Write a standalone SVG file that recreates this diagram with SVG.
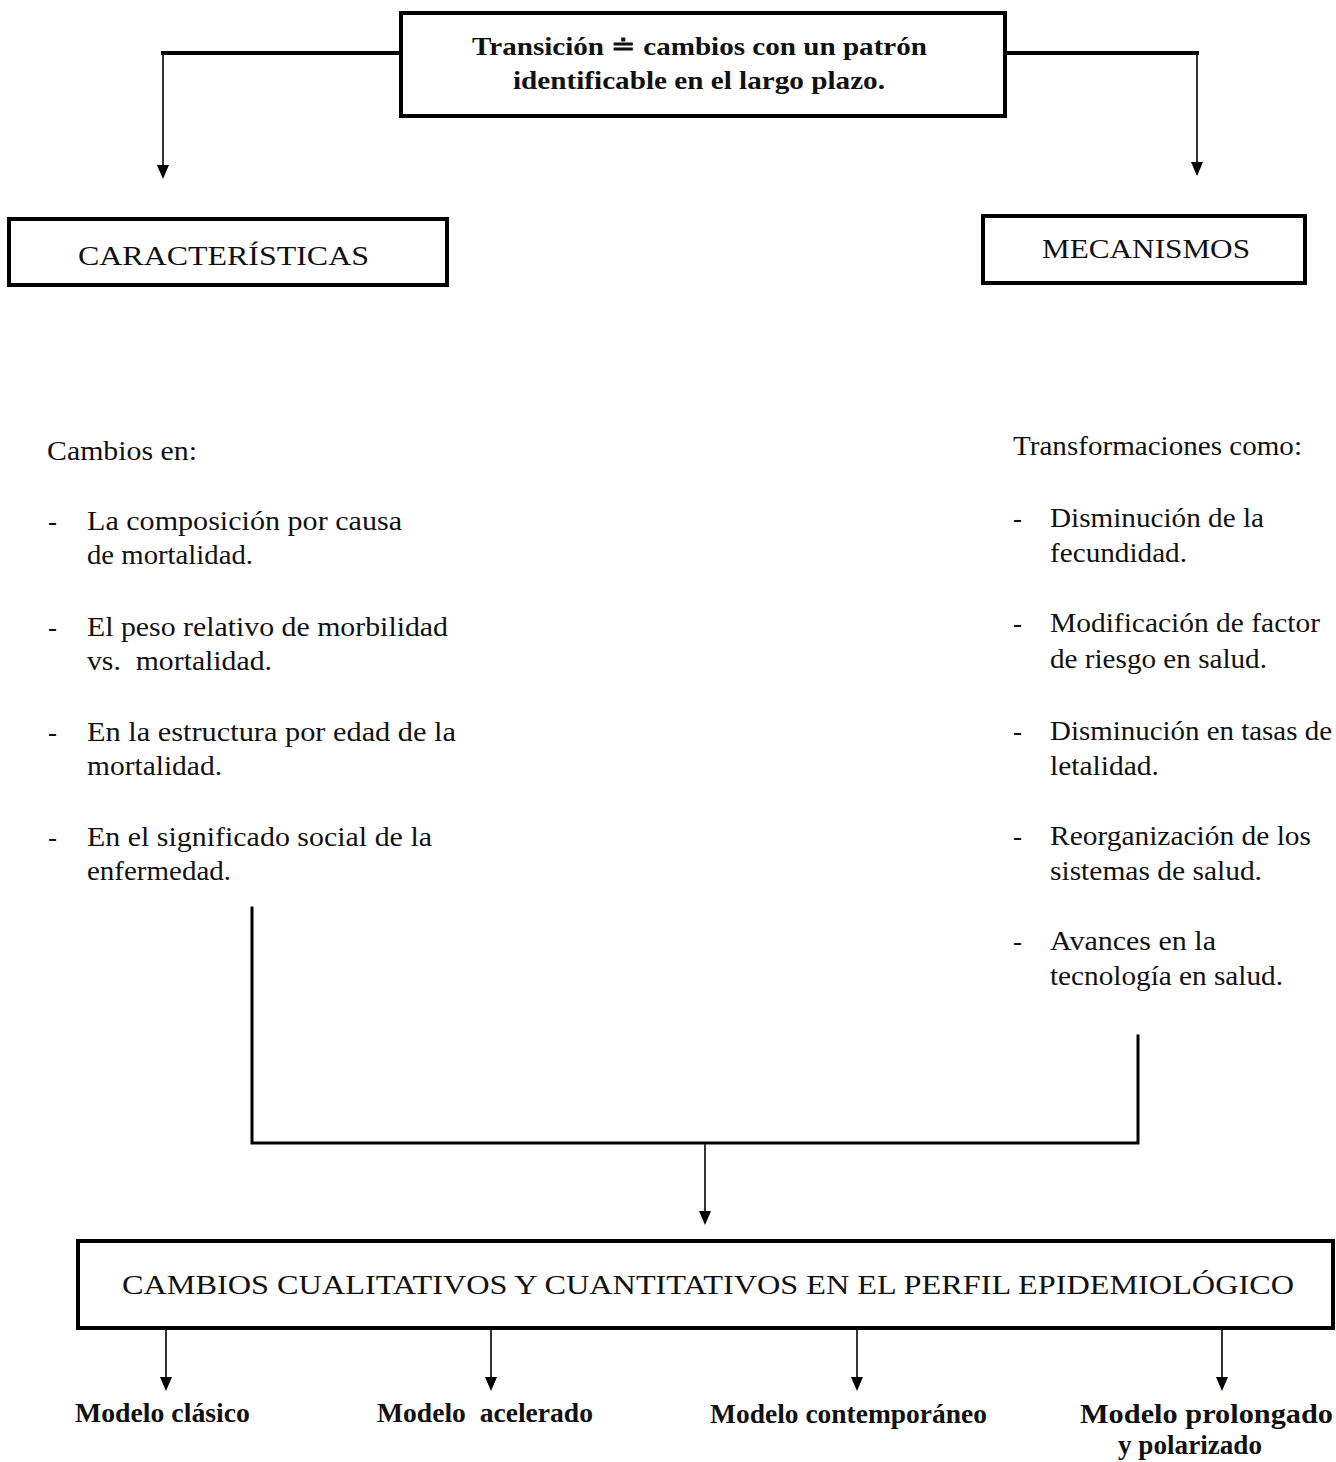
<svg xmlns="http://www.w3.org/2000/svg" width="1336" height="1462" viewBox="0 0 1336 1462">
  <style>
    .box { fill: #fff; stroke: #000; stroke-width: 4; }
    .wire { fill: none; stroke: #000; stroke-linecap: square; }
    .thick { stroke-width: 4; }
    .mid { stroke-width: 3; }
    .thin { stroke-width: 1.6; }
    .tip { fill: #000; }
    text { font-family: "Liberation Serif", "Times New Roman", serif; fill: #111; }
    .head { font-size: 26px; font-weight: bold; }
    .title { font-size: 28px; }
    .body { font-size: 27px; }
    .model { font-size: 27px; font-weight: bold; }
  </style>

  <rect width="1336" height="1462" fill="#fff"/>

  <g id="connectors">
    <!-- from the definition box to the two side headings -->
    <path class="wire thick" d="M401,53 H163"/>
    <path class="wire thin" d="M163,53 V165" />
    <path class="tip" d="M157,165 L169,165 L163,179 Z"/>
    <path class="wire thick" d="M1005,53 H1197"/>
    <path class="wire thin" d="M1197,53 V162"/>
    <path class="tip" d="M1191,162 L1203,162 L1197,176 Z"/>

    <!-- both columns converge into the profile box -->
    <path class="wire mid" d="M252,908 V1143 H1138 V1036"/>
    <path class="wire thin" d="M705,1145 V1211"/>
    <path class="tip" d="M699,1211 L711,1211 L705,1225 Z"/>

    <!-- profile box to the four models -->
    <path class="wire thin" d="M166,1330 V1377"/>
    <path class="tip" d="M160,1377 L172,1377 L166,1391 Z"/>
    <path class="wire thin" d="M491,1330 V1377"/>
    <path class="tip" d="M485,1377 L497,1377 L491,1391 Z"/>
    <path class="wire thin" d="M857,1330 V1377"/>
    <path class="tip" d="M851,1377 L863,1377 L857,1391 Z"/>
    <path class="wire thin" d="M1222,1330 V1377"/>
    <path class="tip" d="M1216,1377 L1228,1377 L1222,1391 Z"/>
  </g>

  <g id="transicion">
    <rect class="box" x="401" y="13" width="604" height="103"/>
    <text class="head" x="472" y="55" textLength="455" lengthAdjust="spacingAndGlyphs">Transición ≐ cambios con un patrón</text>
    <text class="head" x="513" y="89" textLength="372" lengthAdjust="spacingAndGlyphs">identificable en el largo plazo.</text>
  </g>

  <g id="caracteristicas">
    <rect class="box" x="9" y="219" width="438" height="66"/>
    <text class="title" x="78" y="265" textLength="291" lengthAdjust="spacingAndGlyphs">CARACTERÍSTICAS</text>
  </g>

  <g id="mecanismos">
    <rect class="box" x="983" y="216" width="322" height="67"/>
    <text class="title" x="1042" y="258" textLength="208" lengthAdjust="spacingAndGlyphs">MECANISMOS</text>
  </g>

  <g id="cambios-en">
    <text class="body" x="47" y="460" textLength="150" lengthAdjust="spacingAndGlyphs">Cambios en:</text>
    <text class="body" x="48" y="530">-</text>
    <text class="body" x="87" y="530" textLength="315" lengthAdjust="spacingAndGlyphs">La composición por causa</text>
    <text class="body" x="87" y="564" textLength="166" lengthAdjust="spacingAndGlyphs">de mortalidad.</text>
    <text class="body" x="48" y="636">-</text>
    <text class="body" x="87" y="636" textLength="361" lengthAdjust="spacingAndGlyphs">El peso relativo de morbilidad</text>
    <text class="body" x="87" y="670" textLength="185" lengthAdjust="spacingAndGlyphs" xml:space="preserve">vs.  mortalidad.</text>
    <text class="body" x="48" y="741">-</text>
    <text class="body" x="87" y="741" textLength="369" lengthAdjust="spacingAndGlyphs">En la estructura por edad de la</text>
    <text class="body" x="87" y="775" textLength="135" lengthAdjust="spacingAndGlyphs">mortalidad.</text>
    <text class="body" x="48" y="846">-</text>
    <text class="body" x="87" y="846" textLength="345" lengthAdjust="spacingAndGlyphs">En el significado social de la</text>
    <text class="body" x="87" y="880" textLength="144" lengthAdjust="spacingAndGlyphs">enfermedad.</text>
  </g>

  <g id="transformaciones">
    <text class="body" x="1013" y="455" textLength="289" lengthAdjust="spacingAndGlyphs">Transformaciones como:</text>
    <text class="body" x="1013" y="527">-</text>
    <text class="body" x="1050" y="527" textLength="214" lengthAdjust="spacingAndGlyphs">Disminución de la</text>
    <text class="body" x="1050" y="562" textLength="137" lengthAdjust="spacingAndGlyphs">fecundidad.</text>
    <text class="body" x="1013" y="632">-</text>
    <text class="body" x="1050" y="632" textLength="270" lengthAdjust="spacingAndGlyphs">Modificación de factor</text>
    <text class="body" x="1050" y="668" textLength="217" lengthAdjust="spacingAndGlyphs">de riesgo en salud.</text>
    <text class="body" x="1013" y="740">-</text>
    <text class="body" x="1050" y="740" textLength="282" lengthAdjust="spacingAndGlyphs">Disminución en tasas de</text>
    <text class="body" x="1050" y="775" textLength="109" lengthAdjust="spacingAndGlyphs">letalidad.</text>
    <text class="body" x="1013" y="845">-</text>
    <text class="body" x="1050" y="845" textLength="261" lengthAdjust="spacingAndGlyphs">Reorganización de los</text>
    <text class="body" x="1050" y="880" textLength="212" lengthAdjust="spacingAndGlyphs">sistemas de salud.</text>
    <text class="body" x="1013" y="950">-</text>
    <text class="body" x="1050" y="950" textLength="166" lengthAdjust="spacingAndGlyphs">Avances en la</text>
    <text class="body" x="1050" y="985" textLength="233" lengthAdjust="spacingAndGlyphs">tecnología en salud.</text>
  </g>

  <g id="perfil">
    <rect class="box" x="78" y="1241" width="1255" height="87"/>
    <text class="title" x="122" y="1294" textLength="1172" lengthAdjust="spacingAndGlyphs">CAMBIOS CUALITATIVOS Y CUANTITATIVOS EN EL PERFIL EPIDEMIOLÓGICO</text>
  </g>

  <g id="modelo-clasico">
    <text class="model" x="75" y="1422" textLength="175" lengthAdjust="spacingAndGlyphs">Modelo clásico</text>
  </g>
  <g id="modelo-acelerado">
    <text class="model" x="377" y="1422" textLength="216" lengthAdjust="spacingAndGlyphs" xml:space="preserve">Modelo  acelerado</text>
  </g>
  <g id="modelo-contemporaneo">
    <text class="model" x="710" y="1423" textLength="277" lengthAdjust="spacingAndGlyphs">Modelo contemporáneo</text>
  </g>
  <g id="modelo-prolongado">
    <text class="model" x="1080" y="1423" textLength="253" lengthAdjust="spacingAndGlyphs">Modelo prolongado</text>
    <text class="model" x="1118" y="1454" textLength="144" lengthAdjust="spacingAndGlyphs">y polarizado</text>
  </g>
</svg>
